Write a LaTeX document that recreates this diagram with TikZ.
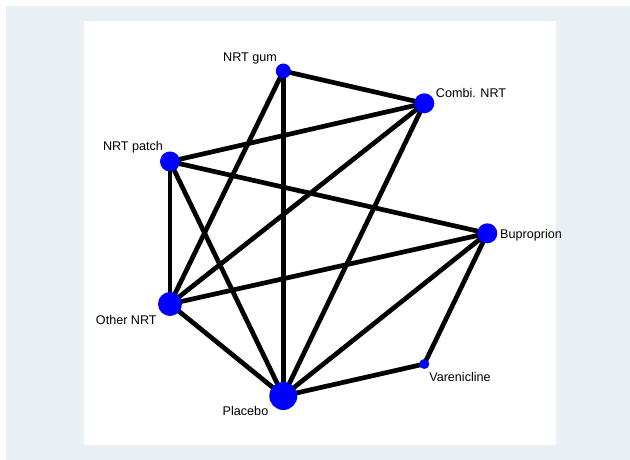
\documentclass[tikz,border=0pt]{standalone}
\usepackage{fontspec}
\setmainfont{Liberation Sans}
\definecolor{outerbg}{RGB}{233,240,243}
\definecolor{nodeblue}{RGB}{0,0,255}
\pgfdeclarelayer{bglayer}
\pgfdeclarelayer{edgelayer}
\pgfsetlayers{bglayer,edgelayer,main}
\begin{document}
\begin{tikzpicture}[x=1pt,y=1pt,
  trt/.style={circle,fill=nodeblue,draw=none,inner sep=0pt,minimum size=#1},
  lbl/.style={inner sep=0pt,font=\fontsize{12.6}{14}\selectfont},
  edge/.style={line width=4.7pt,black}]
\useasboundingbox (0,0) rectangle (630,460);
% nodes (image coords: x, 460-y)
\node[trt=15pt] (gum) at (283.3,389) {};
\node[trt=20pt] (combi) at (424.3,356.7) {};
\node[trt=20pt] (patch) at (170,298.5) {};
\node[trt=20pt] (bup) at (487.3,226.7) {};
\node[trt=24pt] (other) at (170,156) {};
\node[trt=28pt] (placebo) at (283.3,64) {};
\node[trt=10pt] (var) at (424.3,96) {};
% labels
\node[lbl,anchor=base] (lgum) at (250,398) {NRT gum};
\node[lbl,anchor=base west] (lcombi) at (435.7,362.7) {Combi. NRT};
\node[lbl,anchor=base] (lpatch) at (133,309.3) {NRT patch};
\node[lbl,anchor=base west] (lbup) at (500,221.7) {Buproprion};
\node[lbl,anchor=base] (lother) at (126.3,135) {Other NRT};
\node[lbl,anchor=base] (lplacebo) at (245.5,44) {Placebo};
\node[lbl,anchor=base] (lvar) at (460,78.3) {Varenicline};
\begin{pgfonlayer}{bglayer}
  \fill[outerbg] (6,0) rectangle (630,454);
  \fill[white] (84,14.5) rectangle (556,439);
\end{pgfonlayer}
\begin{pgfonlayer}{edgelayer}
  \draw[edge] (gum.center) -- (combi.center);
  \draw[edge] (gum.center) -- (placebo.center);
  \draw[edge] (gum.center) -- (other.center);
  \draw[edge] (combi.center) -- (patch.center);
  \draw[edge] (combi.center) -- (other.center);
  \draw[edge] (combi.center) -- (placebo.center);
  \draw[edge] (patch.center) -- (bup.center);
  \draw[edge] (patch.center) -- (other.center);
  \draw[edge] (patch.center) -- (placebo.center);
  \draw[edge] (other.center) -- (bup.center);
  \draw[edge] (other.center) -- (placebo.center);
  \draw[edge] (placebo.center) -- (bup.center);
  \draw[edge] (placebo.center) -- (var.center);
  \draw[edge] (bup.center) -- (var.center);
\end{pgfonlayer}
\end{tikzpicture}
\end{document}
